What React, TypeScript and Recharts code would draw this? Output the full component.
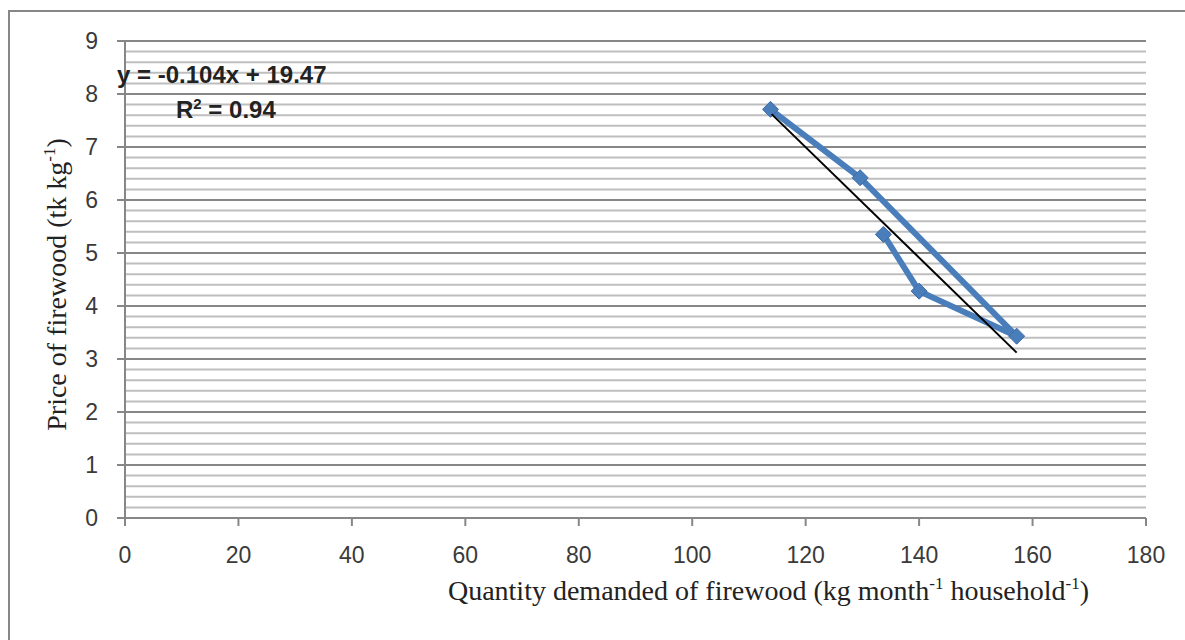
import React from "react";
import { ScatterChart, Scatter, XAxis, YAxis, CartesianGrid, ReferenceLine } from "recharts";

// values
const quantity = [113.8, 129.6, 157.2, 140.0, 133.7];
const price = [7.71, 6.42, 3.43, 4.28, 5.35];

// fitted line end points (y = -0.104x + 19.47, over the data range)
const trendQuantity = [114.0, 157.2];
const trendPrice = [7.62, 3.12];

const xTicks = [0, 20, 40, 60, 80, 100, 120, 140, 160, 180];
const yTicks = [0, 1, 2, 3, 4, 5, 6, 7, 8, 9];
const yMinorTicks = [
  0.2, 0.4, 0.6, 0.8, 1.2, 1.4, 1.6, 1.8, 2.2, 2.4, 2.6, 2.8, 3.2, 3.4, 3.6,
  3.8, 4.2, 4.4, 4.6, 4.8, 5.2, 5.4, 5.6, 5.8, 6.2, 6.4, 6.6, 6.8, 7.2, 7.4,
  7.6, 7.8, 8.2, 8.4, 8.6, 8.8,
];

const equation = "y = -0.104x + 19.47";
const rSquared = "0.94";

const points = quantity.map((q, i) => ({ x: q, y: price[i] }));
const trend = trendQuantity.map((q, i) => ({ x: q, y: trendPrice[i] }));

const AXIS = "#878787";
const BLUE = "#4a7ebb";
const sansFont = "Liberation Sans, Arial, sans-serif";
const tickStyle = { fontSize: 23, fill: "#3a3a3a", fontFamily: sansFont };
const titleFont = "Liberation Serif, Times New Roman, serif";

function Diamond({ cx, cy }: any) {
  if (cx == null || cy == null) return null;
  const r = 8;
  return (
    <polygon
      points={`${cx},${cy - r} ${cx + r},${cy} ${cx},${cy + r} ${cx - r},${cy}`}
      fill={BLUE}
      stroke="#3c6aa8"
      strokeWidth={1}
    />
  );
}

function NoDot() {
  return <g />;
}

function XTitle({ viewBox }: any) {
  const { x, width } = viewBox;
  return (
    <text
      x={x + width / 2 + 133}
      y={600}
      textAnchor="middle"
      fontFamily={titleFont}
      fontSize={28}
      fill="#222"
    >
      Quantity demanded of firewood (kg month
      <tspan fontSize={17} dy={-11}>-1</tspan>
      <tspan dy={11}> household</tspan>
      <tspan fontSize={17} dy={-11}>-1</tspan>
      <tspan dy={11}>)</tspan>
    </text>
  );
}

function YTitle({ viewBox }: any) {
  const cy = viewBox.y + viewBox.height / 2 + 5;
  const cx = 66;
  return (
    <text
      x={cx}
      y={cy}
      transform={`rotate(-90, ${cx}, ${cy})`}
      textAnchor="middle"
      fontFamily={titleFont}
      fontSize={28}
      fill="#222"
    >
      Price of firewood (tk kg
      <tspan fontSize={17} dy={-11}>-1</tspan>
      <tspan dy={11}>)</tspan>
    </text>
  );
}

export default function App() {
  return (
    <div style={{ position: "absolute", left: 0, top: 0, width: 1185, height: 640, background: "#fff" }}>
      <div
        style={{
          position: "absolute",
          left: 8,
          top: 10,
          width: 1177,
          height: 630,
          boxSizing: "border-box",
          borderLeft: `2px solid ${AXIS}`,
          borderTop: `2px solid ${AXIS}`,
        }}
      />
      <div style={{ position: "absolute", left: 0, top: 0 }}>
        <ScatterChart width={1185} height={640} margin={{ top: 41, right: 39, bottom: 0, left: 0 }}>
          {yMinorTicks.map((v) => (
            <ReferenceLine key={v} y={v} stroke="#bebebe" strokeWidth={2} />
          ))}
          <CartesianGrid vertical={false} stroke={AXIS} strokeWidth={2} />
          <XAxis
            type="number"
            dataKey="x"
            domain={[0, 180]}
            ticks={xTicks}
            interval={0}
            height={122}
            tick={tickStyle}
            tickSize={8}
            tickMargin={21}
            stroke={AXIS}
            axisLine={{ stroke: AXIS, strokeWidth: 2 }}
            tickLine={{ stroke: AXIS, strokeWidth: 2 }}
            label={<XTitle />}
          />
          <YAxis
            type="number"
            dataKey="y"
            domain={[0, 9]}
            ticks={yTicks}
            interval={0}
            width={125}
            tick={tickStyle}
            tickSize={8}
            tickMargin={19}
            stroke={AXIS}
            axisLine={{ stroke: AXIS, strokeWidth: 2 }}
            tickLine={{ stroke: AXIS, strokeWidth: 2 }}
            label={<YTitle />}
          />
          <Scatter
            data={points}
            line={{ stroke: BLUE, strokeWidth: 6 }}
            lineJointType="linear"
            shape={<Diamond />}
            isAnimationActive={false}
          />
          <Scatter
            data={trend}
            line={{ stroke: "#000", strokeWidth: 2 }}
            lineJointType="linear"
            shape={<NoDot />}
            isAnimationActive={false}
          />
        </ScatterChart>
      </div>
      {/* trendline label sits above the gridlines */}
      <svg
        width={1185}
        height={640}
        style={{ position: "absolute", left: 0, top: 0, pointerEvents: "none" }}
      >
        <text x={117} y={83} fontFamily={sansFont} fontWeight="bold" fontSize={24} fill="#222">
          {equation}
        </text>
        <text x={176} y={118} fontFamily={sansFont} fontWeight="bold" fontSize={24} fill="#222">
          R<tspan fontSize={15} dy={-9}>2</tspan>
          <tspan dy={9}> = {rSquared}</tspan>
        </text>
      </svg>
    </div>
  );
}
